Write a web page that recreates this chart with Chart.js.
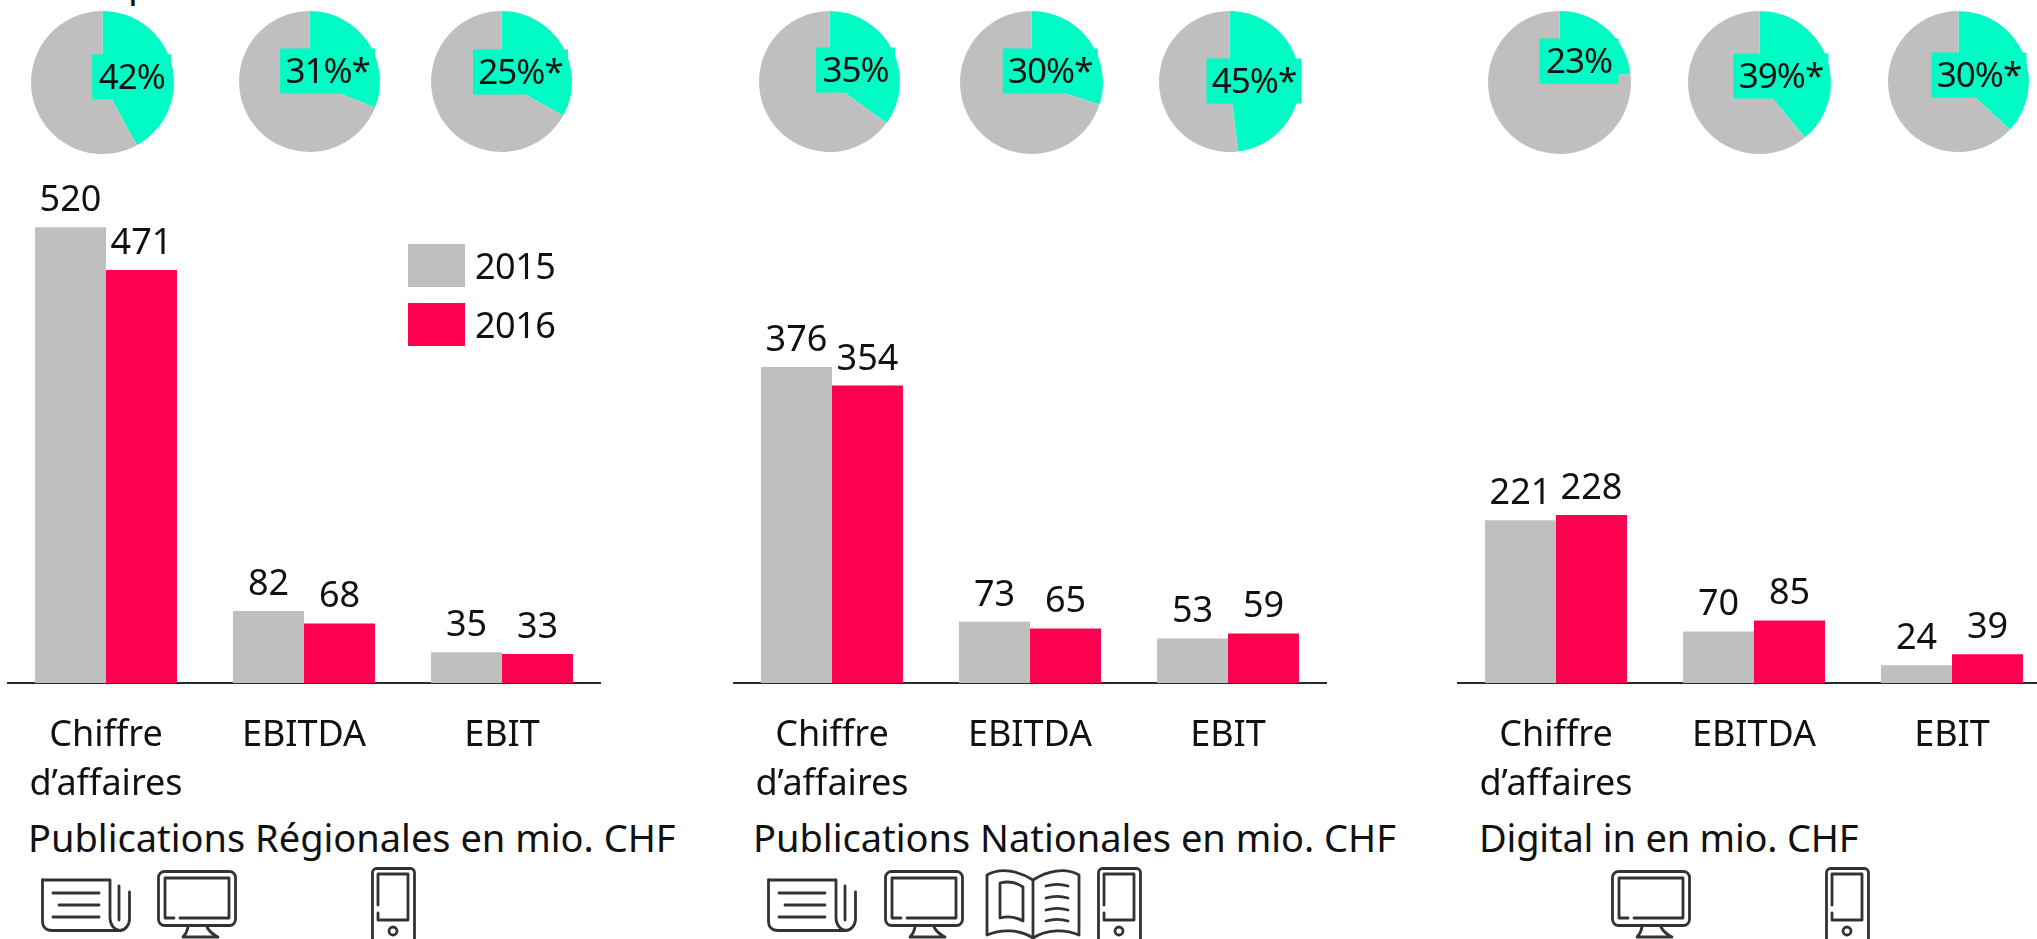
<!DOCTYPE html>
<html lang="fr">
<head>
<meta charset="utf-8">
<title>Chiffres clés 2015-2016</title>
<script src="https://cdn.jsdelivr.net/npm/chart.js@4"></script>
<style>
  html, body { margin: 0; padding: 0; background: #fff; }
  body { position: relative; width: 2037px; height: 939px; overflow: hidden; font-family: "Noto Sans", sans-serif; color: #000; }
  canvas { position: absolute; }
  .t { position: absolute; font-size: 38px; line-height: 44px; white-space: nowrap; color: #111; }
  svg.icon { position: absolute; overflow: visible; fill: none; stroke: #333; stroke-width: 2.8; stroke-linecap: round; stroke-linejoin: round; }
</style>
</head>
<body>
<div class="t" style="left:128px;top:-40px">p</div>
<script>
// ---- data ----
const categories = [['Chiffre', 'd’affaires'], 'EBITDA', 'EBIT'];
const seriesNames = ['2015', '2016'];
const regionales2015 = [520, 82, 35];
const regionales2016 = [471, 68, 33];
const nationales2015 = [376, 73, 53];
const nationales2016 = [354, 65, 59];
const digital2015 = [221, 70, 24];
const digital2016 = [228, 85, 39];
const panelTitles = ['Publications Régionales en mio. CHF', 'Publications Nationales en mio. CHF', 'Digital in en mio. CHF'];
const pieSlices = [42, 31, 33, 35, 30, 48, 23, 39, 37];
const pieLabels = ['42%', '31%*', '25%*', '35%', '30%*', '45%*', '23%', '39%*', '30%*'];

// ---- styles and layout ----
const GREY = '#BFBFBF', RED = '#FF0050', GREEN = '#00FCC4', INK = '#111';
const FONT = '36px "Noto Sans", sans-serif';
const PIE_FONT = '35px "Noto Sans", sans-serif';
const barLefts = [7, 733, 1457];
const yMaxes = [600, 626, 714];
const titleLefts = [28, 753, 1479];
const titleSpacing = [0, 0, -0.2];
const pieCentres = [[102.3,82],[309.4,81],[501.5,81],[829.5,81],[1031,82],[1229,81],[1559,82],[1759,82],[1958,81]];
const pieRadii = [71.5,70.5,70.5,70.5,71.5,70.5,71.5,71.5,70.5];
const labelOffsets = [[29.2,-5.7],[18.1,-10.5],[19,-9.5],[26,-11.5],[18.75,-11.5],[24.5,-0.5],[19.5,-21.5],[21.5,-6.5],[20.5,-6.5]];

function addCanvas(left, top, w, h) {
  const c = document.createElement('canvas');
  c.width = w; c.height = h;
  c.style.left = left + 'px'; c.style.top = top + 'px';
  c.style.width = w + 'px'; c.style.height = h + 'px';
  document.body.appendChild(c);
  return c;
}

const valueLabels = {
  id: 'valueLabels',
  afterDatasetsDraw(chart) {
    const ctx = chart.ctx;
    ctx.save();
    ctx.font = FONT; ctx.fillStyle = INK; ctx.textAlign = 'center'; ctx.textBaseline = 'alphabetic';
    chart.data.datasets.forEach((ds, i) => {
      chart.getDatasetMeta(i).data.forEach((bar, j) => {
        ctx.fillText(String(ds.data[j]), bar.x, bar.y - 16);
      });
    });
    ctx.restore();
  }
};

const seriesKey = {
  id: 'seriesKey',
  afterDraw(chart, args, opts) {
    if (!opts.show) return;
    const ctx = chart.ctx;
    ctx.save();
    ctx.font = FONT; ctx.textAlign = 'left'; ctx.textBaseline = 'alphabetic';
    chart.data.datasets.forEach((ds, i) => {
      const top = 244 + i * 59;
      ctx.fillStyle = ds.backgroundColor;
      ctx.fillRect(401, top, 57, 43);
      ctx.fillStyle = INK;
      ctx.letterSpacing = '-0.5px';
      ctx.fillText(ds.label, 468, top + 35);
    });
    ctx.restore();
  }
};

function barChart(idx, a, b) {
  const canvas = addCanvas(barLefts[idx], 0, 594, 800);
  new Chart(canvas, {
    type: 'bar',
    data: {
      labels: categories,
      datasets: [
        { label: seriesNames[0], data: a, backgroundColor: GREY },
        { label: seriesNames[1], data: b, backgroundColor: RED }
      ]
    },
    options: {
      responsive: false, animation: false, devicePixelRatio: 1,
      layout: { padding: { top: 157, left: 0, right: 0, bottom: 0 } },
      datasets: { bar: { categoryPercentage: 0.717, barPercentage: 1, borderWidth: 0 } },
      plugins: { legend: { display: false }, tooltip: { enabled: false }, title: { display: false }, seriesKey: { show: idx === 0 } },
      scales: {
        y: { display: false, min: 0, max: yMaxes[idx] },
        x: {
          afterFit(scale) { scale.height = 117; },
          grid: { display: false },
          border: { display: true, color: '#2b2b2b', width: 2 },
          ticks: { autoSkip: false, maxRotation: 0, minRotation: 0, color: INK, padding: 21, font: { family: '"Noto Sans", sans-serif', size: 36, lineHeight: 1.34 } }
        }
      }
    },
    plugins: [valueLabels, seriesKey]
  });
}
barChart(0, regionales2015, regionales2016);
barChart(1, nationales2015, nationales2016);
barChart(2, digital2015, digital2016);

const pieLabel = {
  id: 'pieLabel',
  afterDraw(chart, args, opts) {
    const ctx = chart.ctx;
    const arc = chart.getDatasetMeta(0).data[0];
    const bx = arc.x + opts.dx, by = arc.y + opts.dy;
    ctx.save();
    ctx.font = PIE_FONT; ctx.textAlign = 'center'; ctx.textBaseline = 'alphabetic';
    ctx.letterSpacing = '-1px';
    const w = opts.text.includes('*') ? 95 : 79;
    ctx.fillStyle = GREEN;
    ctx.fillRect(bx - w / 2, by - 22.5, w, 45);
    ctx.fillStyle = INK;
    ctx.fillText(opts.text, bx, by + 12);
    ctx.restore();
  }
};

pieSlices.forEach((share, i) => {
  const pad = 40, r = pieRadii[i], size = Math.round(2 * (r + pad));
  const [cx, cy] = pieCentres[i];
  const canvas = addCanvas(cx - size / 2, cy - size / 2, size, size);
  new Chart(canvas, {
    type: 'pie',
    data: { labels: ['part', 'reste'], datasets: [{ data: [share, 100 - share], backgroundColor: [GREEN, GREY], borderWidth: 0 }] },
    options: {
      responsive: false, animation: false, devicePixelRatio: 1,
      layout: { padding: pad },
      plugins: {
        legend: { display: false }, tooltip: { enabled: false },
        pieLabel: { text: pieLabels[i], dx: labelOffsets[i][0], dy: labelOffsets[i][1] }
      }
    },
    plugins: [pieLabel]
  });
});

panelTitles.forEach((txt, i) => {
  const d = document.createElement('div');
  d.className = 't';
  d.textContent = txt;
  d.style.left = titleLefts[i] + 'px';
  d.style.top = '815px';
  d.style.letterSpacing = titleSpacing[i] + 'px';
  document.body.appendChild(d);
});

// ---- decorative media icons ----
const ICONS = {
  news: '<path d="M1.5 1H69V39C69 46 74 51.5 79 51.5C84 51.5 88.5 46 88.5 40V13"/><path d="M1.5 1V42C1.5 48 5 51.5 11 51.5H79"/><path d="M78 7V41"/><path d="M12 14H58M18 26H58M12 38H58"/>',
  screen: '<rect x="1.5" y="1.5" width="77" height="54" rx="6"/><path d="M17 48H8V8H72V48H23"/><path d="M31 57Q30 63 26 67H61Q53 63 50 57"/>',
  book: '<path d="M47 11C33 2 15 -2 1 6V66C15 60 33 60 47 69C61 60 79 60 93 66V6C79 -2 61 2 47 11Z"/><path d="M47 11V69"/><path d="M14 14C22 12 30 13 37 18V52C30 48 22 47 14 49Z"/><path d="M60 17C67 15 75 15 82 17M60 29C67 27 75 27 82 29M60 41C67 39 75 39 82 41M60 52C67 50 75 50 82 52"/>',
  phone: '<rect x="1.5" y="1.5" width="42" height="74" rx="4"/><path d="M7 38V7H37V53H7V46"/><circle cx="22" cy="64" r="4"/>'
};
const iconPlaces = [
  ['news', 41, 879], ['screen', 157, 870], ['phone', 371, 867],
  ['news', 767, 879], ['screen', 884, 870], ['book', 986, 869], ['phone', 1097, 867],
  ['screen', 1611, 870], ['phone', 1825, 867]
];
iconPlaces.forEach(([name, x, y]) => {
  document.body.insertAdjacentHTML('beforeend',
    '<svg class="icon" width="100" height="80" style="left:' + x + 'px;top:' + y + 'px">' + ICONS[name] + '</svg>');
});
</script>
</body>
</html>
